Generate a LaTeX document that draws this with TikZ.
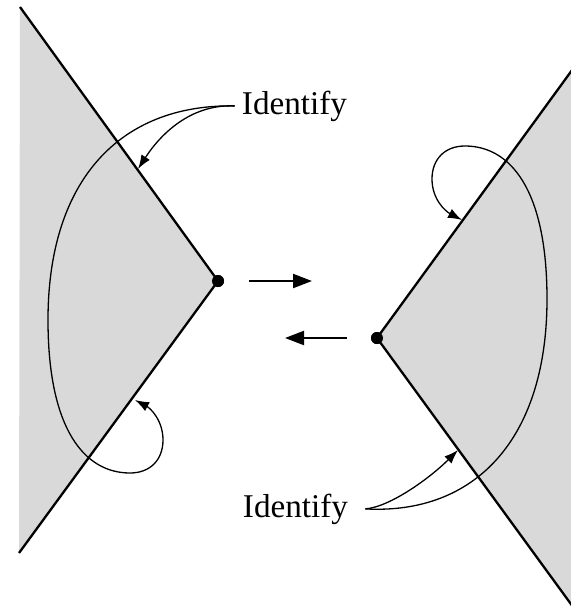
\documentclass[tikz,border=0pt]{standalone}
\usepackage{fontspec}
\setmainfont{Liberation Serif}
\usetikzlibrary{arrows.meta}

\begin{document}
\begin{tikzpicture}[
            x = 0.5pt, y = -0.5pt, % pixel grid, y pointing down
            > = {Latex[length=7pt, width=5pt]}, % arrow head style
            semithick % line style
        ]

        \tikzstyle{wedge}=[fill = gray!30, draw = none]
        \tikzstyle{side}=[line width = 1.15pt]
        \tikzstyle{glue}=[line width = 0.65pt]
        \tikzstyle{shiftarrow}=[line width = 1.1pt, -{Triangle[length=9.5pt, width=7pt]}]
        \tikzstyle{apex}=[circle, fill = black, inner sep = 0pt, minimum size = 6pt]
        \tikzstyle{idtext}=[font = \fontsize{16.6}{20}\selectfont, anchor = base]

        \useasboundingbox (0,0) rectangle (571,611);
        \clip (0,0) rectangle (571,611);

        % left wedge
        \coordinate (Ltop) at (20,7);
        \coordinate (Lbot) at (19,553);
        \node[apex] (L) at (218,281) {};
        \fill[wedge] (Ltop) -- (L.center) -- (Lbot) -- cycle;
        \draw[side] (Ltop) -- (L.center) -- (Lbot);
        \node[apex] at (L) {};

        % right wedge
        \coordinate (Rtop) at (575,66);
        \coordinate (Rbot) at (576,611);
        \node[apex] (R) at (377,338) {};
        \fill[wedge] (Rtop) -- (R.center) -- (Rbot) -- cycle;
        \draw[side] (Rtop) -- (R.center) -- (Rbot);
        \node[apex] at (R) {};

        % labels
        \node[idtext] (idtop) at (294.5,114) {Identify};
        \node[idtext] (idbot) at (295.5,517) {Identify};

        % points glued on the sides
        \coordinate (Lup) at (138,169);
        \coordinate (Llow) at (135,400);
        \coordinate (Rup) at (462,220);
        \coordinate (Rlow) at (458,450);

        % back and forth
        \coordinate (goA) at (249,281);
        \coordinate (goB) at (312,281);
        \coordinate (backA) at (347,338);
        \coordinate (backB) at (285,338);
        \draw[shiftarrow] (goA) -- (goB);
        \draw[shiftarrow] (backA) -- (backB);

        % identifications, left
        \draw[glue, ->] (idtop.west) .. controls (190,104) and (160,135) .. (Lup);
        \draw[glue, ->] (idtop.west) .. controls (120,104) and (48,180) .. (48,320)
            .. controls (48,430) and (85,473) .. (130,473)
            .. controls (150,473) and (163,460) .. (163,440)
            .. controls (163,420) and (150,408) .. (Llow);

        % identifications, right
        \draw[glue, ->] ([xshift=5pt]idbot.east) .. controls (390,507) and (430,478) .. (Rlow);
        \draw[glue, ->] ([xshift=5pt]idbot.east) .. controls (475,515) and (547,439) .. (547,299)
            .. controls (547,189) and (510,146) .. (465,146)
            .. controls (445,146) and (432,159) .. (432,179)
            .. controls (432,199) and (445,211) .. (Rup);

    \end{tikzpicture}
\end{document}
